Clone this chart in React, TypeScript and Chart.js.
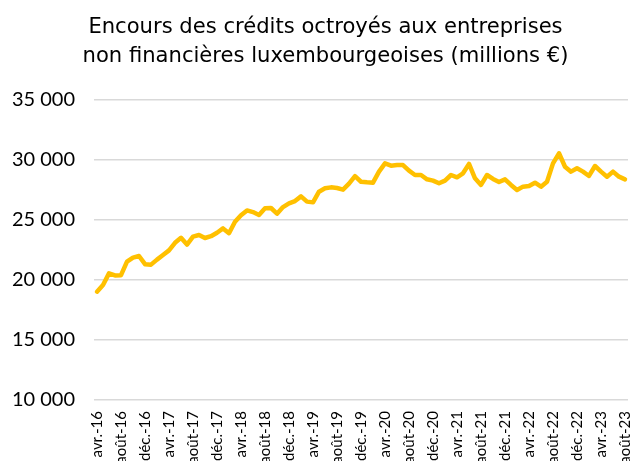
import React, { useEffect, useRef } from "react";
import { Chart, registerables } from "chart.js";

Chart.register(...registerables);

const TITLE = [
  "Encours des crédits octroyés aux entreprises",
  "non financières luxembourgeoises (millions €)",
];

const MONTHS = ["janv.", "févr.", "mars", "avr.", "mai", "juin", "juil.", "août", "sept.", "oct.", "nov.", "déc."];
const YEARS = ["16", "17", "18", "19", "20", "21", "22", "23"];
const START_MONTH = 3; // avr.
const END_MONTH = 7; // août

const v2016 = [19030, 19580, 20550, 20380, 20400, 21530, 21870, 22000, 21320];
const v2017 = [21280, 21700, 22080, 22470, 23100, 23520, 22950, 23610, 23750, 23500, 23650, 23940];
const v2018 = [24300, 23900, 24850, 25400, 25800, 25660, 25420, 25970, 26000, 25530, 26080, 26390];
const v2019 = [26580, 26970, 26530, 26470, 27360, 27640, 27720, 27670, 27530, 28030, 28650, 28190];
const v2020 = [28140, 28110, 29030, 29720, 29530, 29580, 29580, 29110, 28750, 28750, 28390, 28280];
const v2021 = [28060, 28280, 28750, 28560, 28890, 29670, 28470, 27920, 28750, 28420, 28170, 28390];
const v2022 = [27920, 27500, 27780, 27830, 28110, 27780, 28190, 29720, 30560, 29440, 29030, 29310];
const v2023 = [29030, 28670, 29500, 29030, 28610, 29030, 28610, 28390];

const VALUES = [...v2016, ...v2017, ...v2018, ...v2019, ...v2020, ...v2021, ...v2022, ...v2023];

const LABELS: string[] = [];
YEARS.forEach((y, yi) => {
  const from = yi === 0 ? START_MONTH : 0;
  const to = yi === YEARS.length - 1 ? END_MONTH : 11;
  for (let m = from; m <= to; m++) LABELS.push(`${MONTHS[m]}-${y}`);
});

const Y_MIN = 10000;
const Y_MAX = 35000;
const Y_STEP = 5000;
const LABEL_EVERY = 4;

function fmt(v: number): string {
  return String(v).replace(/\B(?=(\d{3})+(?!\d))/g, " ");
}

const titlePlugin = {
  id: "customTitle",
  afterDraw(chart: any) {
    const ctx = chart.ctx;
    ctx.save();
    ctx.fillStyle = "#000";
    ctx.font = '21.1px "DejaVu Sans"';
    ctx.textAlign = "center";
    ctx.textBaseline = "alphabetic";
    ctx.fillText(TITLE[0], 325.5, 33);
    ctx.fillText(TITLE[1], 325.5, 62);
    ctx.restore();
  },
};

export default function App() {
  const ref = useRef<HTMLCanvasElement | null>(null);

  useEffect(() => {
    document.body.style.margin = "0";
    if (!ref.current) return;
    const chart = new Chart(ref.current, {
      type: "line",
      data: {
        labels: LABELS,
        datasets: [
          {
            data: VALUES,
            borderColor: "#FFC000",
            backgroundColor: "#FFC000",
            borderWidth: 4.5,
            pointRadius: 0,
            tension: 0,
            borderJoinStyle: "round",
            borderCapStyle: "round",
          },
        ],
      },
      plugins: [titlePlugin],
      options: {
        responsive: false,
        animation: false,
        layout: { padding: { left: 0, right: 6, top: 100, bottom: 0 } },
        plugins: {
          legend: { display: false },
          tooltip: { enabled: false },
          title: { display: false },
        },
        scales: {
          x: {
            offset: true,
            grid: { display: false, drawTicks: false },
            border: { display: false },
            ticks: {
              autoSkip: false,
              maxRotation: 90,
              minRotation: 90,
              padding: 11,
              color: "#000",
              font: { family: "Lato", size: 15 },
              callback: (_v: any, i: number) => (i % LABEL_EVERY === 0 ? LABELS[i] : ""),
            },
            afterFit: (s: any) => {
              s.height = 61;
              s.paddingLeft = 0;
              s.paddingRight = 0;
            },
          },
          y: {
            min: Y_MIN,
            max: Y_MAX,
            grid: { color: "#D9D9D9", lineWidth: 1.5, drawTicks: false },
            border: { display: false },
            ticks: {
              stepSize: Y_STEP,
              padding: 19,
              color: "#000",
              font: { family: "Lato", size: 20 },
              callback: (v: any) => fmt(Number(v)),
            },
            afterFit: (s: any) => {
              s.width = 94;
              s.paddingTop = 0;
              s.paddingBottom = 0;
            },
          },
        },
      },
    });
    return () => chart.destroy();
  }, []);

  return (
    <div style={{ width: 634, height: 461, background: "#fff" }}>
      <canvas ref={ref} width={634} height={461} />
    </div>
  );
}
